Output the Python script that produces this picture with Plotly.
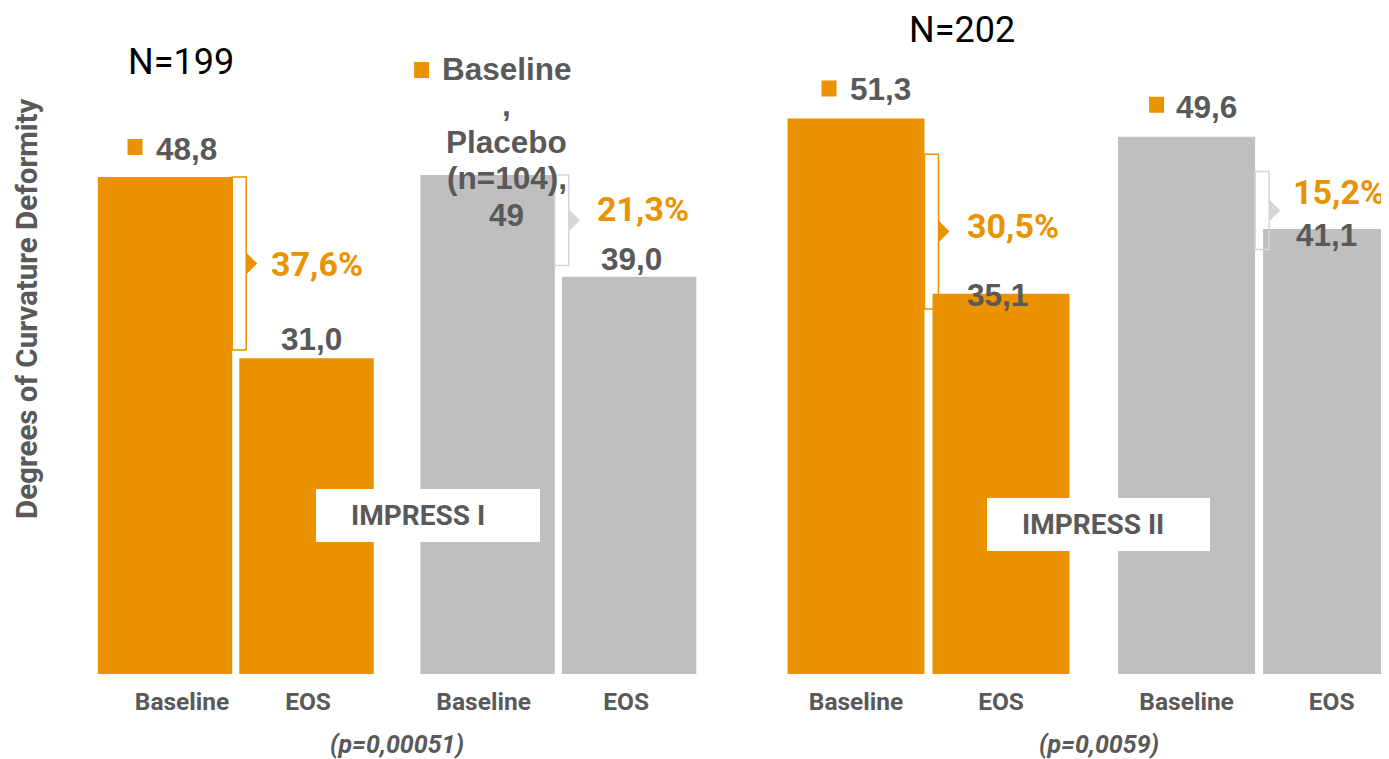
import plotly.graph_objects as go

# ---------------- data ----------------
TRIALS = ["IMPRESS I", "IMPRESS II"]
N_LABELS = ["N=199", "N=202"]
CATEGORIES = ["Baseline", "EOS", "Baseline", "EOS"]
ARM = ["drug", "drug", "placebo", "placebo"]
VALUES_I = [48.8, 31.0, 49.0, 39.0]
VALUES_II = [51.3, 35.1, 49.6, 41.1]
LABELS_I = ["48,8", "31,0", "Baseline<br>,<br>Placebo<br>(n=104),<br>49", "39,0"]
LABELS_II = ["51,3", "35,1", "49,6", "41,1"]
REDUCTION_I = ["37,6%", "21,3%"]
REDUCTION_II = ["30,5%", "15,2%"]
P_VALUES = ["(p=0,00051)", "(p=0,0059)"]
Y_TITLE = "Degrees of Curvature Deformity"

# ---------------- style / layout constants ----------------
W, H = 1389, 759
OFF = 8                      # page body margin of the browser
BASE_SCREEN = 674            # screen y of the bars' base
PH = BASE_SCREEN - OFF       # plot-area height in figure px
MB = H - PH
ORANGE = "#EA9200"
GREY_BAR = "#BFBFBF"
GREY_LINE = "#D6D6D6"
TXT = "#595959"
ARIAL = "Liberation Sans, Arial, sans-serif"
CAL = "Roboto, Liberation Sans, sans-serif"
GAP = 1.28
POS = [0, 1, 1 + GAP, 2 + GAP]
BAR_W = [0.95, 0.945]
TICK_SHIFT_PX = [[17, 1.5, -4, -3], [0, 0, 0, 0]]
# screen px of x=-0.5 and px per unit for each panel
X0_PX = [94.25, 783.5]
X_UNIT = [141.5, 145.0]
Y_TOP = [PH / 10.185, PH / 10.83]
# bracket spans (data units) per trial: drug, placebo
BRACKETS = [[(48.8, 31.8), (49.0, 40.1)], [(48.0, 33.7), (46.4, 39.2)]]
# label offsets in px (dx, dy) relative to bar top centre
LBL_OFF = [[(21, 28), (5, 19), (19, 33), (2, 18)],
           [(24, 29), (-4, -1), (20, 30), (-5, -6)]]
SQ_OFF = [[(-30, 30), None, (-66, 105), None],
          [(-27, 30), None, (-30, 32), None]]
PCT_OFF = [[(37, 0), (40, 11)], [(40, 6), (36, 18)]]
LINE_SP = 36.5
BOX = [(316, 489, 540, 542), (987, 498, 1210, 551)]
BOX_TXT = [(418, 515), (1093, 524)]
N_POS = [(181, 62), (962, 30)]
P_POS = [(397, 744), (1099, 744)]
TITLE_POS = (27, 309)


def paper(sx, sy):
    return (sx - OFF) / W, (PH - (sy - OFF)) / PH


fig = go.Figure()
shapes = []
annotations = []
x_domains, x_ranges = [], []
for t in range(2):
    d0 = (X0_PX[t] - OFF) / W
    if t == 0:
        right_px = X0_PX[t] + X_UNIT[t] * 4.3
    else:
        right_px = W + OFF
    d1 = min((right_px - OFF) / W, 1.0)
    x_domains.append([d0, d1])
    x_ranges.append([-0.5, -0.5 + (right_px - X0_PX[t]) / X_UNIT[t]])

for t, (vals, labels, pcts) in enumerate(zip([VALUES_I, VALUES_II],
                                             [LABELS_I, LABELS_II],
                                             [REDUCTION_I, REDUCTION_II])):
    xa = "x" if t == 0 else "x2"
    ya = "y" if t == 0 else "y2"
    colors = [ORANGE if a == "drug" else GREY_BAR for a in ARM]
    fig.add_trace(go.Bar(
        x=POS, y=vals, width=BAR_W[t], marker=dict(color=colors, line=dict(width=0)),
        xaxis=xa, yaxis=ya, showlegend=False, hoverinfo="skip"))
    # value labels + legend squares
    for i, v in enumerate(vals):
        dx, dy = LBL_OFF[t][i]
        lines = labels[i].split("<br>")
        n = len(lines)
        for k, line in enumerate(lines):
            annotations.append(dict(
                x=POS[i], y=v, xref=xa, yref=ya, text=line, showarrow=False,
                xshift=dx, yshift=dy + ((n - 1) / 2 - k) * LINE_SP,
                xanchor="center", yanchor="middle",
                font=dict(family=ARIAL, size=31.5, color=TXT, weight="bold")))
        if SQ_OFF[t][i] is not None:
            sx, sy = SQ_OFF[t][i]
            shapes.append(dict(
                type="rect", xref=xa, yref=ya, xsizemode="pixel", ysizemode="pixel",
                xanchor=POS[i], yanchor=v, x0=sx - 7.5, x1=sx + 7.5,
                y0=sy - 8, y1=sy + 8, fillcolor=ORANGE, line=dict(width=0),
                layer="above"))
    # brackets with triangles and reduction percentages
    for g, (top, bot) in enumerate(BRACKETS[t]):
        bi = 2 * g
        edge = POS[bi] + BAR_W[t] / 2
        col = ORANGE if g == 0 else GREY_LINE
        shapes.append(dict(
            type="rect", xref=xa, yref=ya, xsizemode="pixel", xanchor=edge,
            x0=0, x1=14, y0=bot, y1=top, line=dict(color=col, width=1.5),
            fillcolor="rgba(0,0,0,0)", layer="above"))
        mid = (top + bot) / 2
        shapes.append(dict(
            type="path", xref=xa, yref=ya, xsizemode="pixel", ysizemode="pixel",
            xanchor=edge, yanchor=mid, path="M 14 11 L 25 0 L 14 -11 Z",
            fillcolor=col, line=dict(width=0), layer="above"))
        px_, py_ = PCT_OFF[t][g]
        annotations.append(dict(
            x=edge, y=mid, xref=xa, yref=ya, text=pcts[g], showarrow=False,
            xshift=px_, yshift=py_, xanchor="left", yanchor="middle",
            font=dict(family=CAL, size=34, color=ORANGE, weight="bold")))
    # trial name boxes
    x0, y0 = paper(BOX[t][0], BOX[t][1])
    x1, y1 = paper(BOX[t][2], BOX[t][3])
    shapes.append(dict(type="rect", xref="paper", yref="paper", x0=x0, x1=x1,
                       y0=y1, y1=y0, fillcolor="white", line=dict(width=0),
                       layer="above"))
    bx, by = paper(*BOX_TXT[t])
    annotations.append(dict(x=bx, y=by, xref="paper", yref="paper", text=TRIALS[t],
                            showarrow=False, xanchor="center", yanchor="middle",
                            font=dict(family=CAL, size=28, color=TXT, weight="bold")))
    nx, ny = paper(*N_POS[t])
    annotations.append(dict(x=nx, y=ny, xref="paper", yref="paper", text=N_LABELS[t],
                            showarrow=False, xanchor="center", yanchor="middle",
                            font=dict(family=CAL, size=36, color="black")))
    qx, qy = paper(*P_POS[t])
    annotations.append(dict(x=qx, y=qy, xref="paper", yref="paper", text=P_VALUES[t],
                            showarrow=False, xanchor="center", yanchor="middle",
                            font=dict(family=CAL, size=25, color=TXT, weight="bold",
                                      style="italic")))

tx, ty = paper(*TITLE_POS)
annotations.append(dict(x=tx, y=ty, xref="paper", yref="paper", text=Y_TITLE,
                        showarrow=False, textangle=-90, xanchor="center", yanchor="middle",
                        font=dict(family=CAL, size=29.5, color=TXT, weight="bold")))

tickvals = [[p + s / X_UNIT[t] for p, s in zip(POS, TICK_SHIFT_PX[t])] for t in range(2)]
axis_common = dict(showgrid=False, zeroline=False, showline=False, ticks="",
                   tickangle=0,
                   tickfont=dict(family=CAL, size=24.5, color=TXT, weight="bold"),
                   ticklabelstandoff=10)
fig.update_layout(
    width=W, height=H, margin=dict(l=0, r=0, t=0, b=MB),
    paper_bgcolor="white", plot_bgcolor="white",
    xaxis=dict(domain=x_domains[0], range=x_ranges[0], tickvals=tickvals[0],
               ticktext=CATEGORIES, anchor="y", **axis_common),
    xaxis2=dict(domain=x_domains[1], range=x_ranges[1], tickvals=tickvals[1],
                ticktext=CATEGORIES, anchor="y2", **axis_common),
    yaxis=dict(domain=[0, 1], range=[0, Y_TOP[0]], visible=False, anchor="x"),
    yaxis2=dict(domain=[0, 1], range=[0, Y_TOP[1]], visible=False, anchor="x2"),
    shapes=shapes, annotations=annotations, showlegend=False,
)

fig.write_html("out.html")
